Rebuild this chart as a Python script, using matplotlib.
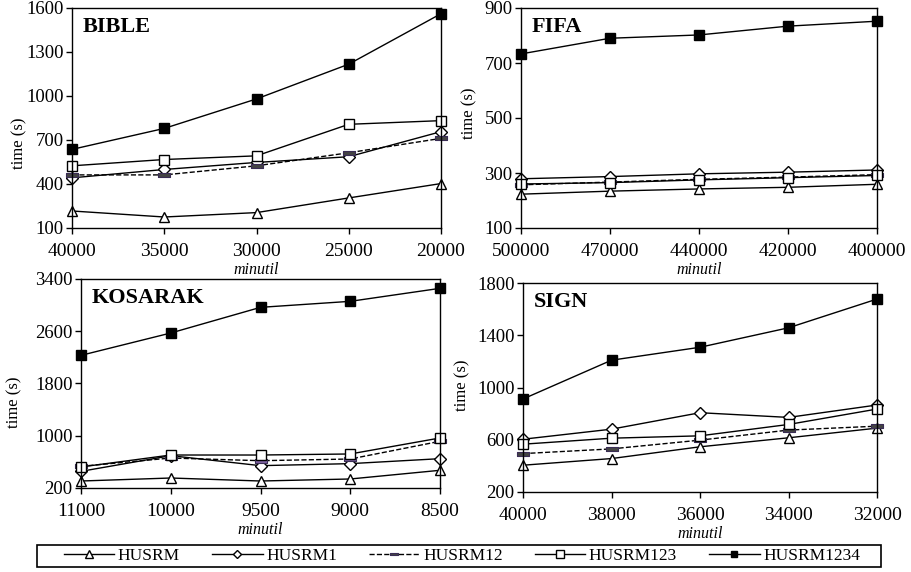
import numpy as np
import matplotlib
matplotlib.use("Agg")
import matplotlib.pyplot as plt
from matplotlib.patches import Rectangle

plt.rcParams['font.family'] = ['Liberation Serif', 'DejaVu Serif']

series = ['HUSRM', 'HUSRM1', 'HUSRM12', 'HUSRM123', 'HUSRM1234']

bible_x = ['40000', '35000', '30000', '25000', '20000']
bible = {
    'HUSRM': [216, 175, 205, 305, 403],
    'HUSRM1': [442, 499, 547, 586, 757],
    'HUSRM12': [462, 462, 524, 613, 711],
    'HUSRM123': [524, 567, 592, 807, 832],
    'HUSRM1234': [636, 779, 980, 1217, 1561],
}

fifa_x = ['500000', '470000', '440000', '420000', '400000']
fifa = {
    'HUSRM': [223, 234, 242, 248, 259],
    'HUSRM1': [279, 287, 297, 303, 311],
    'HUSRM12': [257, 267, 277, 285, 294],
    'HUSRM123': [260, 265, 275, 283, 291],
    'HUSRM1234': [733, 790, 802, 834, 852],
}

kosarak_x = ['11000', '10000', '9500', '9000', '8500']
kosarak = {
    'HUSRM': [307, 353, 307, 338, 471],
    'HUSRM1': [455, 695, 542, 573, 649],
    'HUSRM12': [532, 659, 618, 644, 915],
    'HUSRM123': [522, 705, 705, 721, 966],
    'HUSRM1234': [2231, 2573, 2966, 3058, 3257],
}

sign_x = ['40000', '38000', '36000', '34000', '32000']
sign = {
    'HUSRM': [405, 456, 546, 615, 689],
    'HUSRM1': [604, 681, 807, 771, 866],
    'HUSRM12': [494, 530, 597, 674, 704],
    'HUSRM123': [566, 612, 630, 717, 835],
    'HUSRM1234': [912, 1209, 1308, 1457, 1677],
}

flat = [(-1, -0.35), (1, -0.35), (1, 0.35), (-1, 0.35), (-1, -0.35)]

styles = {
    'HUSRM': dict(marker='^', ls='-', mfc='white', mec='black', ms=7.5),
    'HUSRM1': dict(marker='D', ls='-', mfc='white', mec='black', ms=6),
    'HUSRM12': dict(marker=flat, ls='--', mfc='#8064a2', mec='#3a2d55', ms=8, mew=0.8),
    'HUSRM123': dict(marker='s', ls='-', mfc='white', mec='black', ms=7.5),
    'HUSRM1234': dict(marker='s', ls='-', mfc='black', mec='black', ms=6.5),
}

# name, x labels, data, ylim, yticks, axes box in px (l, r, t, b), dash-marker colour, ylabel pos
panels = [
    ('BIBLE', bible_x, bible, (100, 1600), [100, 400, 700, 1000, 1300, 1600],
     [72, 441, 8, 228], '#444444', (27, 143)),
    ('FIFA', fifa_x, fifa, (100, 900), [100, 300, 500, 700, 900],
     [521, 877, 8, 228], '#5a6b1e', (477, 113)),
    ('KOSARAK', kosarak_x, kosarak, (200, 3400), [200, 1000, 1800, 2600, 3400],
     [81, 440, 279, 488], '#8064a2', (22, 402)),
    ('SIGN', sign_x, sign, (200, 1800), [200, 600, 1000, 1400, 1800],
     [523, 877, 283, 492], '#444444', (470, 385)),
]

W, H = 911, 572
fig = plt.figure(figsize=(W / 100, H / 100), dpi=100)

handles = []
for name, xl, data, ylim, yticks, (l, r, t, b), c12, (lx, ly) in panels:
    ax = fig.add_axes([l / W, 1 - b / H, (r - l) / W, (b - t) / H])
    x = np.arange(len(xl))
    hs = []
    for s in series:
        st = dict(styles[s])
        if s == 'HUSRM12':
            st['mfc'] = c12
        h, = ax.plot(x, data[s], color='black', lw=1, label=s, clip_on=False, **st)
        hs.append(h)
    if not handles:
        handles = hs
    ax.set_xlim(0, len(xl) - 1)
    ax.set_ylim(*ylim)
    ax.set_yticks(yticks)
    ax.set_xticks(x)
    ax.set_xticklabels(xl, fontsize=14)
    ax.tick_params(axis='y', labelsize=13.5, direction='out', length=4, width=1, pad=2)
    ax.tick_params(axis='x', direction='out', length=4, width=1, pad=7)
    ax.set_ylabel('time (s)', fontsize=12)
    ax.yaxis.set_label_coords((lx - l) / (r - l), (b - ly) / (b - t))
    ax.set_xlabel('minutil', fontsize=11.5, style='italic', labelpad=1)
    for sp in ax.spines.values():
        sp.set_linewidth(1)
    ax.text(11 / (r - l), 1 - 9 / (b - t), name, transform=ax.transAxes, fontsize=16,
            fontweight='bold', va='top', ha='left')

fig.add_artist(Rectangle((37 / W, 1 - 567 / H), (881 - 37) / W, 22 / H,
                         transform=fig.transFigure, fill=False, edgecolor='black', lw=1.2))
leg = fig.legend(handles, series, loc='center left', ncol=5, mode='expand',
                 bbox_to_anchor=(64 / W, 1 - 567 / H, (860 - 64) / W, 22 / H),
                 fontsize=12.5, frameon=False, handlelength=2.9, borderpad=0,
                 borderaxespad=0, handletextpad=0.2, markerscale=0.75)

fig.savefig('out.png', dpi=100)
